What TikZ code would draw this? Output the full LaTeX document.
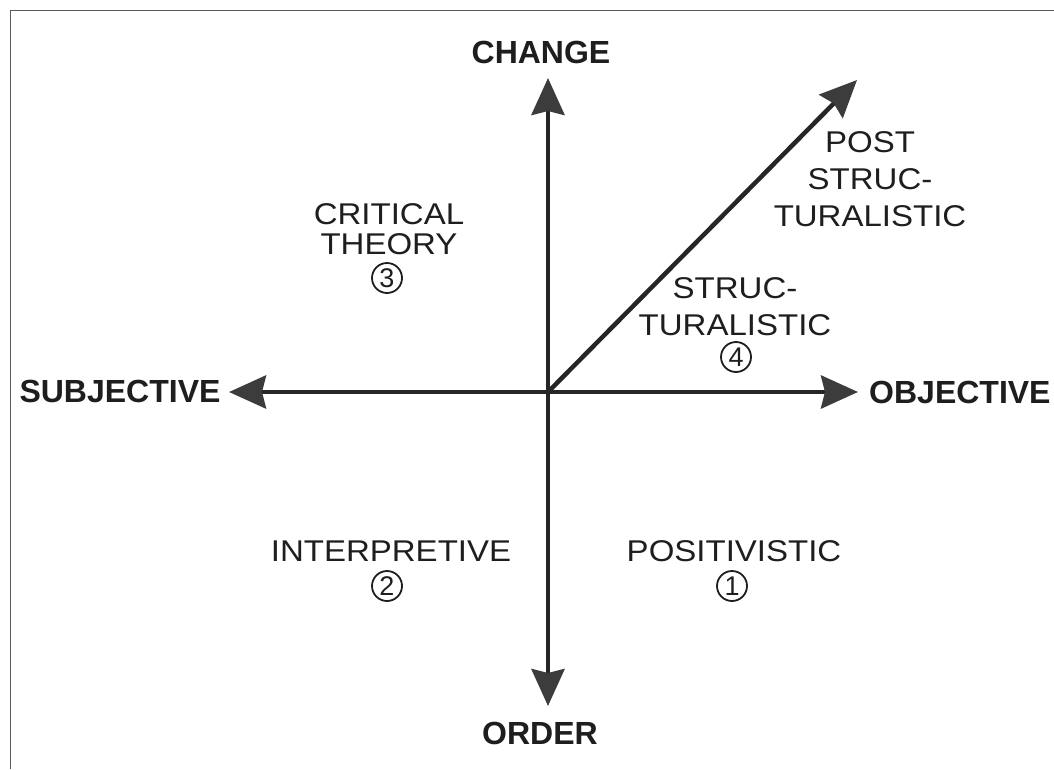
\documentclass[tikz,border=0pt]{standalone}
\usepackage{fontspec}
\setmainfont{Liberation Sans}
\newfontfamily\labfont{Liberation Sans}[FakeStretch=1.1]
\usetikzlibrary{arrows.meta}
\definecolor{axiscol}{HTML}{262626}
\definecolor{headcol}{HTML}{3C3C3C}
\definecolor{txtcol}{HTML}{1E1E1E}
\definecolor{framecol}{HTML}{5A5A5A}
\begin{document}
\begin{tikzpicture}[x=1pt,y=-1pt,
  axis/.style={line width=4.5pt, draw=axiscol, -{Stealth[length=37pt,width=33pt,inset=4pt,fill=headcol,color=headcol]}},
  axlabel/.style={font=\fontsize{32}{36}\selectfont\bfseries, text=txtcol, inner sep=0pt},
  quad/.style={font=\labfont\fontsize{30}{30}\selectfont, align=center, inner sep=0pt, text=txtcol},
  num/.style={circle, draw=txtcol, line width=1.8pt, minimum size=30pt, inner sep=0pt, font=\fontsize{27}{27}\selectfont, text=txtcol}]
\useasboundingbox (0,0) rectangle (1054,769);
\fill[white] (0,0) rectangle (1054,769);
% frame
\draw[framecol, line width=1pt] (10,769) -- (10,10) -- (1054,10);
% axes
\coordinate (O) at (548,392);
\coordinate (top) at (548,78);
\coordinate (bot) at (548,706);
\coordinate (lft) at (229,392);
\coordinate (rgt) at (858,392);
\coordinate (diag) at (857,80);
\draw[axis] (O) -- (top);
\draw[axis] (O) -- (bot);
\draw[axis] (O) -- (lft);
\draw[axis] (O) -- (rgt);
\draw[axis] (O) -- (diag);
% axis labels
\node[axlabel] (change) at (541,52) {CHANGE};
\node[axlabel] (order) at (540,733) {ORDER};
\node[axlabel] (subj) at (120,391) {SUBJECTIVE};
\node[axlabel, anchor=west] (obj) at (869,392) {OBJECTIVE};
% quadrant labels
\node[quad] (crit) at (389,229) {CRITICAL\\THEORY};
\node[num] (n3) at (387,278) {3};
\node[quad, font=\labfont\fontsize{30}{37}\selectfont] (post) at (870,179) {POST\\STRUC-\\TURALISTIC};
\node[quad, font=\labfont\fontsize{30}{37}\selectfont] (struc) at (735,306.5) {STRUC-\\TURALISTIC};
\node[num] (n4) at (736,357) {4};
\node[quad] (interp) at (391,551) {INTERPRETIVE};
\node[num] (n2) at (387,586) {2};
\node[quad] (posit) at (734,551) {POSITIVISTIC};
\node[num] (n1) at (732,586) {1};
\end{tikzpicture}
\end{document}
